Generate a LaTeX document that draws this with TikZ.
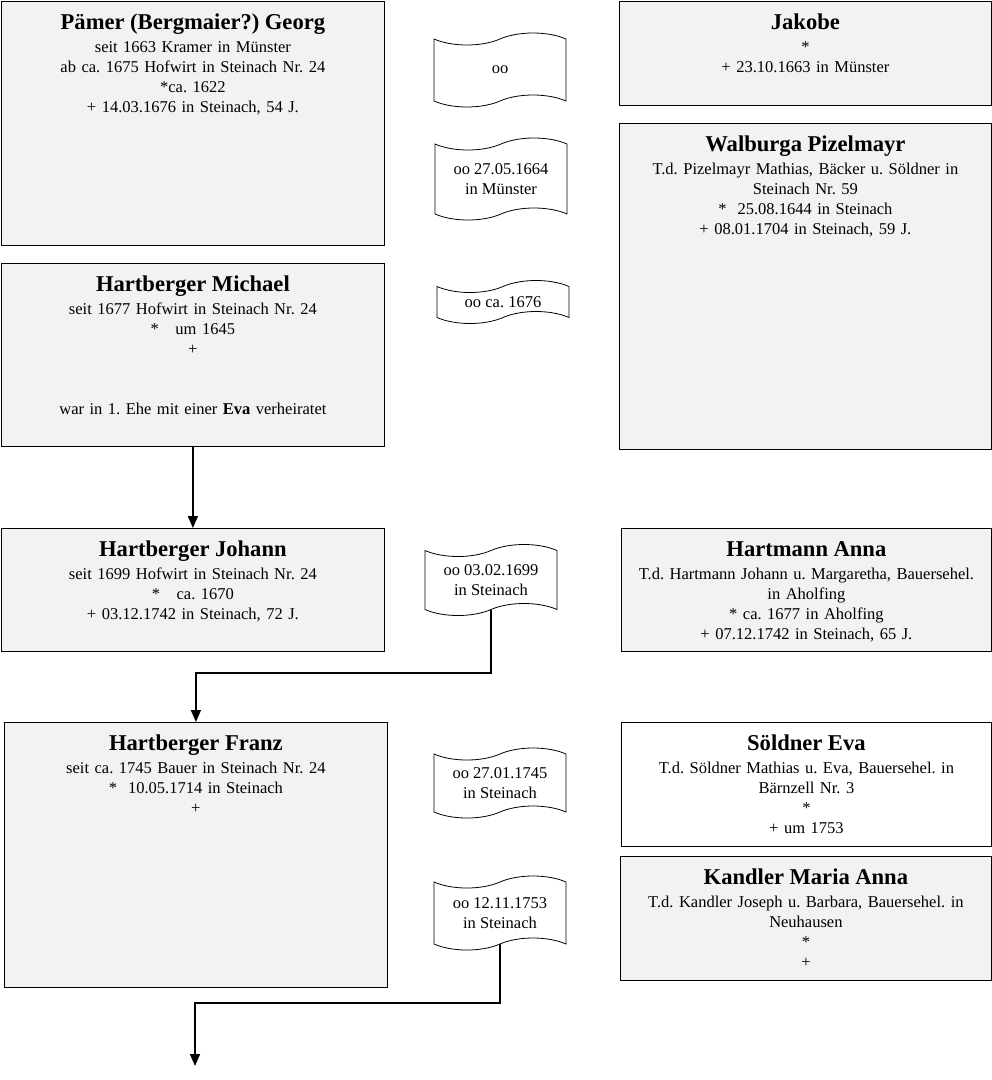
\documentclass[tikz,border=0pt]{standalone}
\usepackage{fontspec}
\setmainfont{Liberation Serif}
\usepackage{tikz}
\usetikzlibrary{shapes.symbols, arrows.meta, positioning}
\definecolor{grau}{HTML}{F2F2F2}
\frenchspacing
\newcommand{\titel}[1]{{\fontsize{22.6}{24}\selectfont\bfseries #1}\\[3pt]}
\tikzstyle{person}=
[
	rectangle
	, anchor=north west
	, text width=383pt
	, inner xsep=0pt
	, inner ysep=0pt
	, text height=28pt
	, align=center
	, draw=black
	, line width=0.8pt
	, fill=grau
	, font=\fontsize{16.5}{20}\selectfont
]
\tikzstyle{ehe}=
[
	tape
	, draw=black
	, line width=0.8pt
	, fill=white
	, minimum width=132pt
	, tape bend height=12pt
	, align=center
	, font=\fontsize{16.5}{20}\selectfont
]
\tikzstyle{arrow} = [line width=1.6pt,-{Triangle[length=12pt,width=10pt]}]
\tikzstyle{line} = [line width=1.6pt,-]

\begin{document}
\begin{tikzpicture}[x=1pt,y=-1pt]
\useasboundingbox (0,0) rectangle (992,1080);
% linke Seite
\node(paemer)[person, text depth=216pt] at (1,1) {\titel{Pämer (Bergmaier?) Georg}seit 1663 Kramer in Münster\\ ab ca. 1675 Hofwirt in Steinach Nr. 24\\ {*}ca. 1622\\ + 14.03.1676 in Steinach, 54 J.};
\node(michael)[person, text depth=155pt] at (1,263) {\titel{Hartberger Michael}seit 1677 Hofwirt in Steinach Nr. 24\\ {*}\ \ \ um 1645\\ +\\[40pt] war in 1. Ehe mit einer \textbf{Eva} verheiratet};
\node(johann)[person, text depth=95pt] at (1,528) {\titel{Hartberger Johann}seit 1699 Hofwirt in Steinach Nr. 24\\ {*}\ \ \ ca. 1670\\ + 03.12.1742 in Steinach, 72 J.};
\node(franz)[person, text depth=237pt] at (4,722) {\titel{Hartberger Franz}seit ca. 1745 Bauer in Steinach Nr. 24\\ {*}\ \ 10.05.1714 in Steinach\\ +};
% rechte Seite
\node(jakobe)[person, text width=372pt, text depth=76pt] at (619,1) {\titel{Jakobe}{*}\\ + 23.10.1663 in Münster};
\node(walburga)[person, text width=372pt, text depth=298pt] at (619,123) {\titel{Walburga Pizelmayr}T.d. Pizelmayr Mathias, Bäcker u. Söldner in\\ Steinach Nr. 59\\ {*}\ \ 25.08.1644 in Steinach\\ + 08.01.1704 in Steinach, 59 J.};
\node(anna)[person, text width=370pt, text depth=95pt] at (621,528) {\titel{Hartmann Anna}T.d. Hartmann Johann u. Margaretha, Bauersehel.\\ in Aholfing\\ {*} ca. 1677 in Aholfing\\ + 07.12.1742 in Steinach, 65 J.};
\node(eva)[person, text width=370pt, text depth=96pt, fill=white] at (621,722) {\titel{Söldner Eva}T.d. Söldner Mathias u. Eva, Bauersehel. in\\ Bärnzell Nr. 3\\ {*}\\ + um 1753};
\node(kandler)[person, text width=371pt, text depth=96pt] at (620,856) {\titel{Kandler Maria Anna}T.d. Kandler Joseph u. Barbara, Bauersehel. in\\ Neuhausen\\ {*}\\ +};
% Ehen
\node(ehe1)[ehe, minimum height=74pt] at (500,70) {oo};
\node(ehe2)[ehe, minimum height=82pt] at (501,179) {oo 27.05.1664\\ in Münster};
\node(ehe3)[ehe, minimum height=43pt, inner ysep=1pt] at (503,302) {oo ca. 1676};
\node(ehe4)[ehe, minimum height=71pt] at (491,580) {oo 03.02.1699\\ in Steinach};
\node(ehe5)[ehe, minimum height=70pt] at (500,783) {oo 27.01.1745\\ in Steinach};
\node(ehe6)[ehe, minimum height=74pt] at (500,913) {oo 12.11.1753\\ in Steinach};

\coordinate(knick1) at (491,673);
\coordinate(knick2) at (500,1003);
\coordinate(ende) at (195,1066);

\draw[arrow](michael)--(johann);
\draw[arrow](ehe4.south)--(knick1)-|(franz.north);
\draw[arrow](ehe6.south)--(knick2)-|(ende);

\end{tikzpicture}
\end{document}
